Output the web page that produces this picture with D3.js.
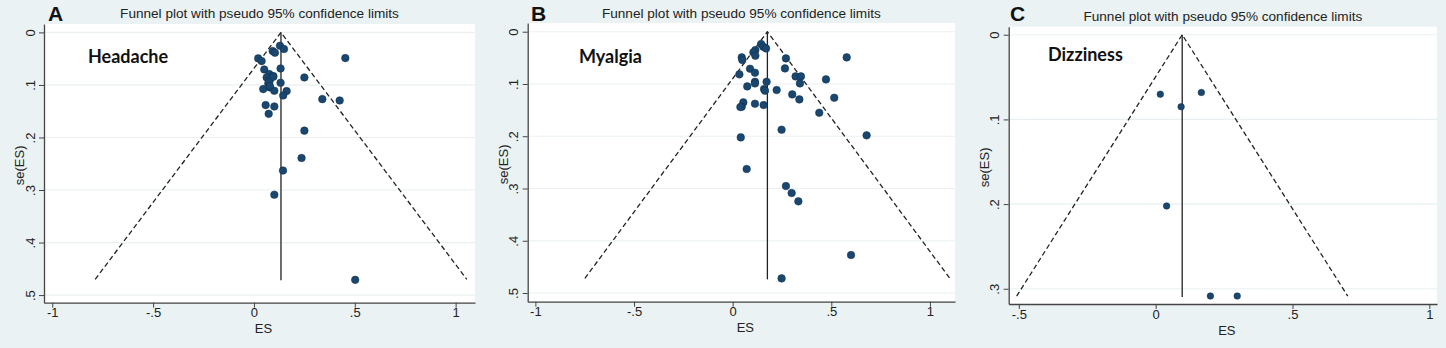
<!DOCTYPE html>
<html>
<head>
<meta charset="utf-8">
<script src="https://cdn.jsdelivr.net/npm/d3@7"></script>
<style>
  body { margin: 0; background: #eaf2f3; }
  svg { display: block; }
</style>
</head>
<body>
<div id="chart"></div>
<script>
// values
var panelLetters = ["A", "B", "C"];
var panelNames = ["Headache", "Myalgia", "Dizziness"];
var chartTitle = "Funnel plot with pseudo 95% confidence limits";

var headacheES = [0.129, 0.149, 0.093, 0.104, 0.021, 0.038, 0.453, 0.051, 0.132, 0.076, 0.096, 0.063, 0.079, 0.250,
  0.132, 0.071, 0.079, 0.046, 0.101, 0.162, 0.145, 0.339, 0.425, 0.058, 0.101, 0.073, 0.250, 0.236, 0.144, 0.101,
  0.502, 0.076, 0.096, 0.079];
var headacheSE = [0.0254, 0.0317, 0.0356, 0.0387, 0.0495, 0.0546, 0.0489, 0.0705, 0.0686, 0.0794, 0.0832, 0.0857, 0.0895, 0.0857,
  0.0959, 0.0971, 0.1048, 0.1079, 0.1111, 0.1117, 0.120, 0.127, 0.1295, 0.1384, 0.141, 0.155, 0.187, 0.239, 0.263, 0.309,
  0.471, 0.094, 0.0845, 0.102];

var myalgiaES = [0.144, 0.155, 0.169, 0.115, 0.105, 0.115, 0.046, 0.049, 0.270, 0.578, 0.088, 0.113, 0.265, 0.034,
  0.319, 0.346, 0.473, 0.113, 0.113, 0.172, 0.341, 0.074, 0.159, 0.164, 0.223, 0.302, 0.515, 0.338, 0.054, 0.046,
  0.039, 0.113, 0.157, 0.439, 0.248, 0.041, 0.679, 0.071, 0.270, 0.299, 0.333, 0.600, 0.248];
var myalgiaSE = [0.0236, 0.0287, 0.0319, 0.0351, 0.0395, 0.0459, 0.0491, 0.0542, 0.051, 0.0491, 0.0708, 0.0784, 0.0702, 0.0816,
  0.0855, 0.0855, 0.0912, 0.0957, 0.0989, 0.0957, 0.0989, 0.1046, 0.1097, 0.1129, 0.1116, 0.1199, 0.1263, 0.1295, 0.1352, 0.1435,
  0.1441, 0.1378, 0.1403, 0.155, 0.1875, 0.2022, 0.1983, 0.2628, 0.2953, 0.3087, 0.3246, 0.4273, 0.472];

var dizzinessES = [0.017, 0.167, 0.093, 0.040, 0.200, 0.298];
var dizzinessSE = [0.0702, 0.0682, 0.0851, 0.2022, 0.3086, 0.3086];

var pooledES = [0.134, 0.176, 0.097];
var maxSE = [0.470, 0.472, 0.3086];

var xTicksAB = [-1, -0.5, 0, 0.5, 1];
var xTicksC = [-0.5, 0, 0.5, 1];
var yTicksAB = [0, 0.1, 0.2, 0.3, 0.4, 0.5];
var yTicksC = [0, 0.1, 0.2, 0.3];

// layout of each panel (pixels) and axis extents
var panels = [
  {es: headacheES, se: headacheSE, xt: xTicksAB, yt: yTicksAB, left: 44, right: 475, top: 24, bottom: 302.7,
   xd: [-1.041, 1.096], yd: [-0.016, 0.5145], r: 3.8, titleY: 18, letterX: 48, nameX: 88, nameY: 63},
  {es: myalgiaES, se: myalgiaSE, xt: xTicksAB, yt: yTicksAB, left: 527.7, right: 955, top: 23, bottom: 301.7,
   xd: [-1.039, 1.127], yd: [-0.0167, 0.5166], r: 3.8, titleY: 17.5, letterX: 531, nameX: 579, nameY: 63},
  {es: dizzinessES, se: dizzinessSE, xt: xTicksC, yt: yTicksC, left: 1008.7, right: 1437, top: 26.7, bottom: 304,
   xd: [-0.537, 1.028], yd: [-0.0095, 0.318], r: 3.3, titleY: 20.5, letterX: 1010, nameX: 1048, nameY: 61}
];

var fmt = function (d) { return d === 0 ? "0" : String(d).replace("0.", "."); };

var svg = d3.select("#chart").append("svg")
    .attr("width", 1446)
    .attr("height", 348);

svg.append("rect").attr("width", 1446).attr("height", 348).attr("fill", "#eaf2f3");

panels.forEach(function (p, i) {
    var x = d3.scaleLinear().domain(p.xd).range([p.left, p.right]);
    var y = d3.scaleLinear().domain(p.yd).range([p.top, p.bottom]);
    var g = svg.append("g");

    g.append("rect")
        .attr("x", p.left).attr("y", p.top)
        .attr("width", p.right - p.left).attr("height", p.bottom - p.top)
        .attr("fill", "#ffffff");

    // grid
    g.selectAll(".grid").data(p.yt).enter()
        .append("line")
        .attr("x1", p.left + 1).attr("x2", p.right)
        .attr("y1", function (d) { return y(d); })
        .attr("y2", function (d) { return y(d); })
        .attr("stroke", "#eaf0f1")
        .attr("stroke-width", 1.2);

    // axes
    var xAxis = d3.axisBottom(x).tickValues(p.xt).tickFormat(fmt).tickSize(5).tickSizeOuter(0);
    var gx = g.append("g").attr("transform", "translate(0," + p.bottom + ")").call(xAxis);
    gx.select(".domain").attr("stroke", "#444").attr("stroke-width", 1.3);
    gx.selectAll(".tick line").attr("stroke", "#444");
    gx.selectAll("text").attr("font-family", "Liberation Sans, Arial, sans-serif")
        .attr("font-size", 13).attr("fill", "#222").attr("dy", "0.5em");

    var yAxis = d3.axisLeft(y).tickValues(p.yt).tickFormat(fmt).tickSize(5).tickSizeOuter(0);
    var gy = g.append("g").attr("transform", "translate(" + p.left + ",0)").call(yAxis);
    gy.select(".domain").attr("stroke", "#444").attr("stroke-width", 1.3);
    gy.selectAll(".tick line").attr("stroke", "#444");
    gy.selectAll(".tick text")
        .attr("font-family", "Liberation Sans, Arial, sans-serif")
        .attr("font-size", 13).attr("fill", "#222")
        .attr("x", 0).attr("dy", 0)
        .attr("text-anchor", "middle")
        .attr("transform", "translate(-9.5,0) rotate(-90)");

    // axis titles
    g.append("text")
        .attr("x", (p.left + p.right) / 2 + 4).attr("y", p.bottom + 30.5)
        .attr("text-anchor", "middle")
        .attr("font-family", "Liberation Sans, Arial, sans-serif")
        .attr("font-size", 13).attr("fill", "#222")
        .text("ES");
    g.append("text")
        .attr("transform", "translate(" + (p.left - 20) + "," + ((p.top + p.bottom) / 2 + 2) + ") rotate(-90)")
        .attr("text-anchor", "middle")
        .attr("font-family", "Liberation Sans, Arial, sans-serif")
        .attr("font-size", 13).attr("fill", "#222")
        .text("se(ES)");

    // title and panel letter
    g.append("text")
        .attr("x", (p.left + p.right) / 2).attr("y", p.titleY)
        .attr("text-anchor", "middle")
        .attr("font-family", "Liberation Sans, Arial, sans-serif")
        .attr("font-size", 13.6).attr("fill", "#222")
        .text(chartTitle);
    g.append("text")
        .attr("x", p.letterX).attr("y", 20.5)
        .attr("font-family", "Liberation Sans, Arial, sans-serif")
        .attr("font-weight", "bold")
        .attr("font-size", 21).attr("fill", "#111")
        .text(panelLetters[i]);
    g.append("text")
        .attr("x", p.nameX).attr("y", p.nameY)
        .attr("font-family", "Lato, sans-serif")
        .attr("font-weight", "bold")
        .attr("font-size", 18).attr("fill", "#111")
        .text(panelNames[i]);

    // funnel limits
    var es0 = pooledES[i], sm = maxSE[i];
    var funnel = [[es0 - 1.96 * sm, sm], [es0, 0], [es0 + 1.96 * sm, sm]];
    g.append("path")
        .attr("d", d3.line().x(function (d) { return x(d[0]); }).y(function (d) { return y(d[1]); })(funnel))
        .attr("fill", "none")
        .attr("stroke", "#222")
        .attr("stroke-width", 1.3)
        .attr("stroke-dasharray", "5,3");
    g.append("line")
        .attr("x1", x(es0)).attr("x2", x(es0))
        .attr("y1", y(0)).attr("y2", y(sm) + 1)
        .attr("stroke", "#222")
        .attr("stroke-width", 1.3);

    // studies
    g.selectAll(".pt").data(p.es).enter()
        .append("circle")
        .attr("cx", function (d) { return x(d); })
        .attr("cy", function (d, j) { return y(p.se[j]); })
        .attr("r", p.r)
        .attr("fill", "#1a476f")
        .attr("stroke", "#0f2f4f")
        .attr("stroke-width", 0.5);
});
</script>
</body>
</html>
